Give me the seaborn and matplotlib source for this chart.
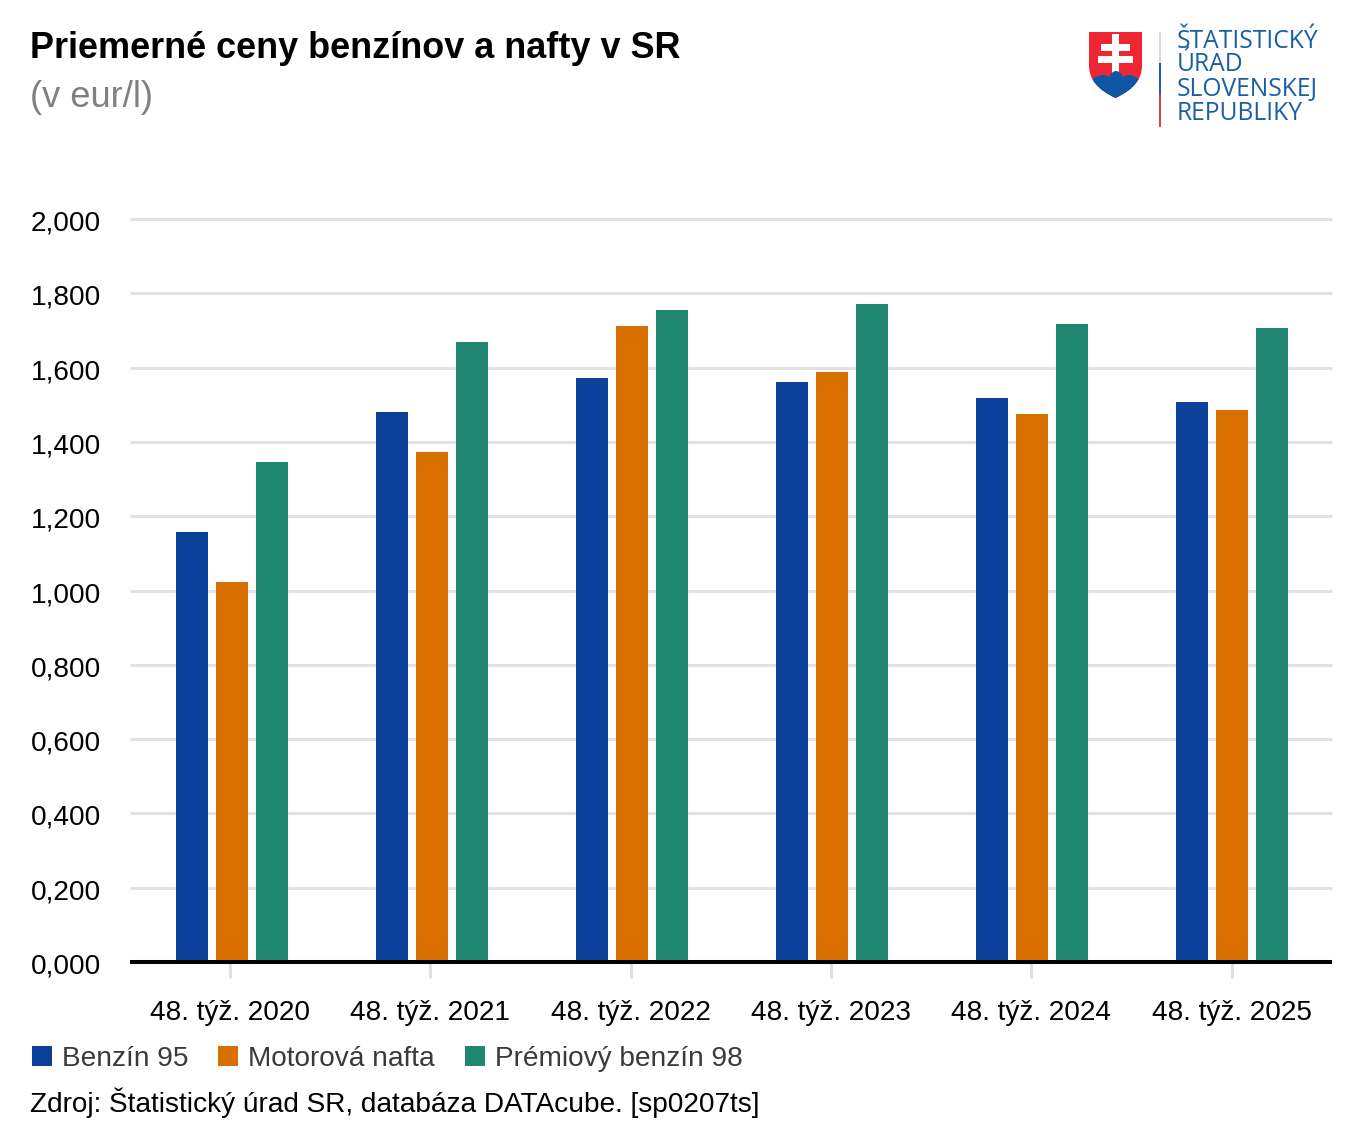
import matplotlib
matplotlib.use("Agg")
import matplotlib.pyplot as plt
import seaborn as sns
import pandas as pd
from matplotlib.path import Path
from matplotlib.patches import PathPatch, Rectangle
from matplotlib.transforms import ScaledTranslation

# Data
weeks = ["48. týž. 2020", "48. týž. 2021", "48. týž. 2022", "48. týž. 2023", "48. týž. 2024", "48. týž. 2025"]
benzin_95 = [1.157, 1.480, 1.572, 1.561, 1.518, 1.507]
nafta = [1.023, 1.373, 1.712, 1.588, 1.475, 1.486]
premium_98 = [1.346, 1.669, 1.755, 1.771, 1.717, 1.707]
y_ticks = [0, 0.2, 0.4, 0.6, 0.8, 1.0, 1.2, 1.4, 1.6, 1.8, 2.0]
y_labels = ["0,000", "0,200", "0,400", "0,600", "0,800", "1,000", "1,200", "1,400", "1,600", "1,800", "2,000"]
colors = ["#0c419a", "#d87000", "#1f8670"]
W, H = 1362, 1140

df = pd.DataFrame({"week": weeks, "Benzín 95": benzin_95, "Motorová nafta": nafta, "Prémiový benzín 98": premium_98})
df = df.melt(id_vars="week", var_name="fuel", value_name="price")

sns.set_theme(style="white")
plt.rcParams["font.family"] = ["Liberation Sans", "DejaVu Sans"]

fig = plt.figure(figsize=(W / 100, H / 100), dpi=100)
ax = fig.add_axes([130 / W, 1 - 962 / H, 1202 / W, 743 / H])

sns.barplot(data=df, x="week", y="price", hue="fuel", palette=colors, width=0.6, gap=0.2, saturation=1,
            linewidth=0, ax=ax, zorder=3)

ax.set_xlim(-0.51, 5.5)
ax.set_ylim(0, 2)
ax.set_xlabel("")
ax.set_ylabel("")
ax.set_yticks(y_ticks, y_labels)
ax.set_xticks([i * 1.0017 - 0.01 for i in range(6)], weeks)
ax.tick_params(axis="y", length=0, pad=21, labelsize=20.2, labelcolor="black")
ax.tick_params(axis="x", length=11.5, width=2.2, color="#e0e0e0", pad=15.5, labelsize=20.2, labelcolor="black", bottom=True)

# y labels sit a bit below their gridlines in the original
for lab in ax.get_yticklabels():
    lab.set_transform(lab.get_transform() + ScaledTranslation(0, -1.5 / 100, fig.dpi_scale_trans))

for t in y_ticks[1:]:
    ax.axhline(t, color="#e2e2e2", lw=2.2, zorder=1, clip_on=False, solid_capstyle="butt")
for s in ["top", "left", "right"]:
    ax.spines[s].set_visible(False)
ax.spines["bottom"].set_color("black")
ax.spines["bottom"].set_linewidth(2.9)
ax.spines["bottom"].set_capstyle("butt")
ax.spines["bottom"].set_zorder(5)

handles, labels = ax.get_legend_handles_labels()
ax.legend(handles, labels, loc="lower left", bbox_to_anchor=(32 / W, 1 - 1072 / H), bbox_transform=fig.transFigure,
          ncol=3, frameon=False, fontsize=20.2, labelcolor="#3a3a3a", handlelength=0.71, handleheight=0.71,
          handletextpad=0.36, columnspacing=1.07, borderpad=0, borderaxespad=0)

fig.text(30 / W, 1 - 58 / H, "Priemerné ceny benzínov a nafty v SR", fontsize=25.95, fontweight="bold", color="black")
fig.text(30 / W, 1 - 107 / H, "(v eur/l)", fontsize=26.1, color="#808080")
fig.text(30 / W, 1 - 1112 / H, "Zdroj: Štatistický úrad SR, databáza DATAcube. [sp0207ts]", fontsize=20.18, color="black")

# Logo, drawn in pixel coordinates of the figure
logo = fig.add_axes([0, 0, 1, 1], facecolor="none")
logo.set_xlim(0, W)
logo.set_ylim(H, 0)
logo.axis("off")

shield = Path([(1089, 32), (1142, 32), (1142, 66), (1142, 86), (1115.5, 98),
               (1089, 86), (1089, 66), (1089, 32)],
              [Path.MOVETO, Path.LINETO, Path.LINETO, Path.CURVE3, Path.CURVE3,
               Path.CURVE3, Path.CURVE3, Path.CLOSEPOLY])
shield_patch = PathPatch(shield, fc="#ee2532", ec="none")
logo.add_patch(shield_patch)
for x, y, w, h in [(1112, 34, 7, 40), (1101, 44, 29, 7), (1098, 56, 35, 7)]:
    logo.add_patch(Rectangle((x, y), w, h, fc="white", ec="none"))
hills = Path([(1089, 84), (1094, 75), (1103, 75), (1107, 75), (1109, 77), (1112, 71), (1116, 71), (1120, 71),
              (1123, 77), (1125, 75), (1129, 75), (1137, 75), (1142, 84), (1142, 100), (1089, 100), (1089, 84)],
             [Path.MOVETO, Path.CURVE3, Path.CURVE3, Path.CURVE3, Path.CURVE3, Path.CURVE3, Path.CURVE3, Path.CURVE3,
              Path.CURVE3, Path.CURVE3, Path.CURVE3, Path.CURVE3, Path.CURVE3, Path.LINETO, Path.LINETO, Path.CLOSEPOLY])
hills_patch = PathPatch(hills, fc="#0f57a4", ec="none")
logo.add_patch(hills_patch)
hills_patch.set_clip_path(shield_patch)
for y, h, c in [(32, 31, "#d8d8d8"), (63, 32, "#1c5ea8"), (95, 32, "#e4434c")]:
    logo.add_patch(Rectangle((1159, y), 2.2, h, fc=c, ec="none"))
for line, y in zip(["ŠTATISTICKÝ", "ÚRAD", "SLOVENSKEJ", "REPUBLIKY"], [48, 71, 96, 120]):
    logo.text(1177, y, line, fontsize=17.7, color="#1a5fa5", family="Open Sans", va="baseline")

fig.savefig("out.png", dpi=100)
